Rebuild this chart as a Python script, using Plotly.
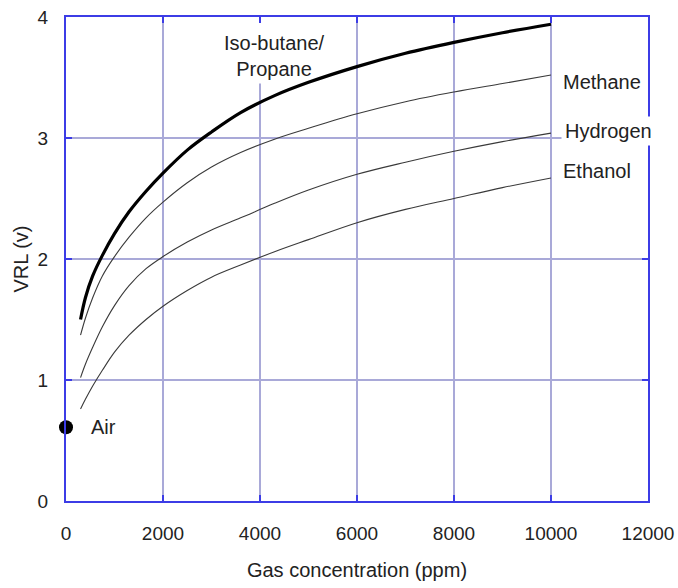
import plotly.graph_objects as go

# Gas concentration (ppm) and VRL (v)
ppm = [300, 400, 550, 750, 1000, 1300, 1650, 2000, 2500, 3000, 3600, 4300, 5000, 6000, 7000, 8000, 9000, 10000]
isobutane = [1.50, 1.68, 1.86, 2.03, 2.21, 2.39, 2.56, 2.71, 2.90, 3.05, 3.21, 3.35, 3.46, 3.59, 3.70, 3.79, 3.87, 3.94]
methane = [1.37, 1.51, 1.68, 1.86, 2.02, 2.18, 2.34, 2.47, 2.63, 2.76, 2.88, 2.99, 3.08, 3.20, 3.30, 3.38, 3.45, 3.52]
hydrogen = [1.02, 1.13, 1.27, 1.44, 1.615, 1.78, 1.92, 2.02, 2.14, 2.24, 2.34, 2.46, 2.57, 2.70, 2.80, 2.89, 2.97, 3.04]
ethanol = [0.76, 0.84, 0.95, 1.08, 1.23, 1.37, 1.50, 1.61, 1.74, 1.85, 1.95, 2.06, 2.16, 2.30, 2.41, 2.50, 2.59, 2.67]
air_x = [0]
air_y = [0.61]

x_ticks = [0, 2000, 4000, 6000, 8000, 10000, 12000]
y_ticks = [0, 1, 2, 3, 4]

FONT = "Liberation Sans, Arial, sans-serif"
TXT = "#222222"
AXIS = "#3c3ce6"
GRID = "#a9a9d8"

fig = go.Figure()
fig.add_trace(go.Scatter(x=ppm, y=ethanol, mode="lines", line=dict(color="#3a3a3a", width=1.1, shape="spline")))
fig.add_trace(go.Scatter(x=ppm, y=hydrogen, mode="lines", line=dict(color="#3a3a3a", width=1.1, shape="spline")))
fig.add_trace(go.Scatter(x=ppm, y=methane, mode="lines", line=dict(color="#3a3a3a", width=1.1, shape="spline")))
fig.add_trace(go.Scatter(x=ppm, y=isobutane, mode="lines", line=dict(color="#000000", width=3.2, shape="spline")))
fig.add_trace(go.Scatter(x=air_x, y=air_y, mode="markers", cliponaxis=False,
                         marker=dict(color="#000000", size=14)))

# white backing behind the Iso-butane/Propane label (hides gridline only)
fig.add_shape(type="rect", xref="x", yref="y", x0=3200, x1=5450, y0=3.45, y1=3.97,
              fillcolor="white", line=dict(width=0), layer="between")

def lab(text, x, y, xanchor="left", bg=None, pad=1):
    fig.add_annotation(x=x, y=y, xref="x", yref="y", text=text, showarrow=False,
                       xanchor=xanchor, yanchor="middle", align="center",
                       font=dict(family=FONT, size=20, color=TXT),
                       bgcolor=bg, borderpad=pad)

lab("Iso-butane/<br>Propane", 4300, 3.68, xanchor="center")
lab("Methane", 10200, 3.46)
lab("Hydrogen", 10200, 3.06, bg="white", pad=3)
lab("Ethanol", 10200, 2.73)
lab("Air", 480, 0.61)

fig.update_layout(
    width=678, height=588,
    margin=dict(l=66, r=30, t=17, b=87),
    paper_bgcolor="white", plot_bgcolor="white",
    showlegend=False, hovermode=False,
    font=dict(family=FONT, size=19, color=TXT),
)
fig.update_xaxes(range=[0, 12000], tickvals=x_ticks, ticktext=[str(v) for v in x_ticks],
                 showgrid=True, gridcolor=GRID, gridwidth=1.5,
                 showline=True, linecolor=AXIS, linewidth=2, mirror="ticks",
                 ticks="inside", ticklen=6, tickcolor=AXIS, tickwidth=2,
                 ticklabelstandoff=14, zeroline=False, automargin=False,
                 ticklabeloverflow="allow",
                 tickfont=dict(family=FONT, size=19, color=TXT),
                 title=dict(text="Gas concentration (ppm)", standoff=20,
                            font=dict(family=FONT, size=20, color=TXT)))
fig.update_yaxes(range=[0, 4], tickvals=y_ticks, ticktext=[str(v) for v in y_ticks],
                 showgrid=True, gridcolor=GRID, gridwidth=1.5,
                 showline=True, linecolor=AXIS, linewidth=2, mirror="ticks",
                 ticks="inside", ticklen=6, tickcolor=AXIS, tickwidth=2,
                 ticklabelstandoff=12, zeroline=False, automargin=False,
                 ticklabeloverflow="allow",
                 tickfont=dict(family=FONT, size=19, color=TXT),
                 title=dict(text="VRL (v)", standoff=4,
                            font=dict(family=FONT, size=20, color=TXT)))

# remove the default 8px page margin so the 678x588 figure fills the window exactly
fig.write_html("out.html", config={"displayModeBar": False},
               post_script="document.body.style.margin='0';document.body.style.overflow='hidden';")
